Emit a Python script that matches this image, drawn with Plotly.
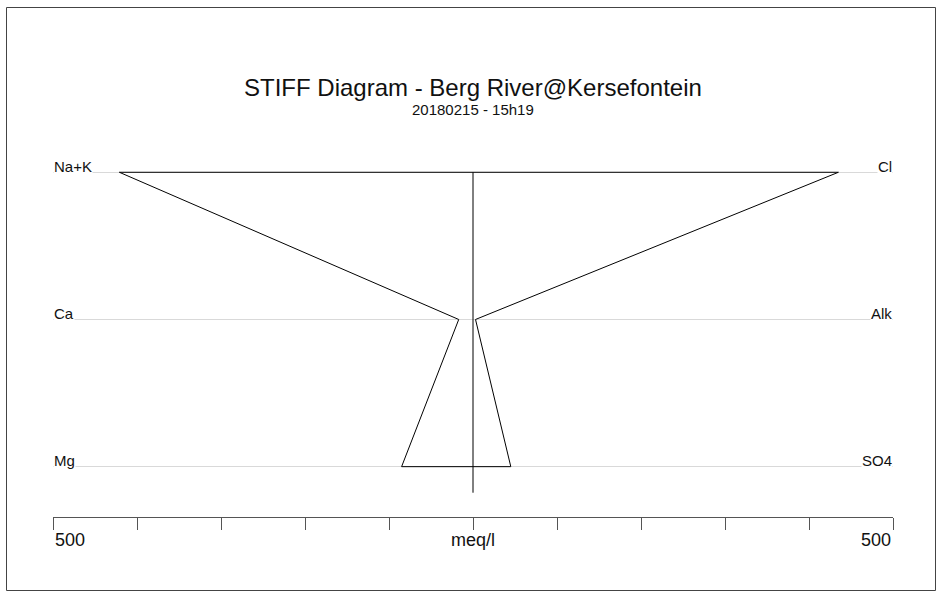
import plotly.graph_objects as go

# ---- data (meq/l) ----
cations = ["Na+K", "Ca", "Mg"]
anions = ["Cl", "Alk", "SO4"]
cation_values = [421, 17, 85]
anion_values = [435, 3, 45]
axis_max = 500
tick_step = 100
title_text = "STIFF Diagram - Berg River@Kersefontein"
subtitle_text = "20180215 - 15h19"
unit_label = "meq/l"

# ---- layout constants ----
W, H = 938, 592
ML, MR, MT, MB = 53, 45, 100, 75
plot_h = H - MT - MB
FONT = "Liberation Sans, Arial, sans-serif"
ypos = list(range(len(cations)))  # 0 top .. 2 bottom


def py(px):
    """pixel row -> paper y"""
    return (H - MB - px) / plot_h


# polygon: cations on the left (negative), anions on the right
poly_x = [-v for v in cation_values] + [v for v in anion_values[::-1]] + [-cation_values[0]]
poly_y = ypos + ypos[::-1] + [ypos[0]]

fig = go.Figure()
fig.add_trace(go.Scatter(x=poly_x, y=poly_y, mode="lines",
                         line=dict(color="black", width=1), hoverinfo="skip",
                         showlegend=False))
# centre line
fig.add_trace(go.Scatter(x=[0, 0], y=[ypos[0], ypos[-1] + 0.177], mode="lines",
                         line=dict(color="black", width=1), hoverinfo="skip",
                         showlegend=False))

ticks = list(range(-axis_max, axis_max + 1, tick_step))
fig.update_xaxes(range=[-axis_max, axis_max], showgrid=False, zeroline=False,
                 showline=True, linecolor="#555", linewidth=1,
                 ticks="outside", ticklen=12, tickcolor="#555", tickwidth=1,
                 tickvals=ticks, showticklabels=False, fixedrange=True)
fig.update_yaxes(range=[2.342, -0.491], showgrid=True, gridcolor="#d9d9d9",
                 gridwidth=1, zeroline=False, showline=False,
                 tickvals=ypos, showticklabels=False, fixedrange=True)

ann = []
for name, y in zip(cations, ypos):
    ann.append(dict(x=-axis_max, y=y, xref="x", yref="y", text=name,
                    xanchor="left", yanchor="middle", yshift=6, showarrow=False,
                    bgcolor="white", borderpad=0,
                    font=dict(family=FONT, size=15, color="#111")))
for name, y in zip(anions, ypos):
    ann.append(dict(x=axis_max, y=y, xref="x", yref="y", text=name,
                    xanchor="right", yanchor="middle", yshift=6, showarrow=False,
                    bgcolor="white", borderpad=0,
                    font=dict(family=FONT, size=15, color="#111")))
# axis labels
ann.append(dict(x=-axis_max, y=py(540), xref="x", yref="paper", text=str(axis_max),
                xanchor="left", yanchor="middle", showarrow=False,
                font=dict(family=FONT, size=18, color="#111")))
ann.append(dict(x=axis_max, y=py(540), xref="x", yref="paper", text=str(axis_max),
                xanchor="right", yanchor="middle", showarrow=False,
                font=dict(family=FONT, size=18, color="#111")))
ann.append(dict(x=0, y=py(540), xref="x", yref="paper", text=unit_label,
                xanchor="center", yanchor="middle", showarrow=False,
                font=dict(family=FONT, size=18, color="#111")))
# titles
ann.append(dict(x=0, y=py(88), xref="x", yref="paper", text=title_text,
                xanchor="center", yanchor="middle", showarrow=False,
                font=dict(family=FONT, size=24, color="#111")))
ann.append(dict(x=0, y=py(110), xref="x", yref="paper", text=subtitle_text,
                xanchor="center", yanchor="middle", showarrow=False,
                font=dict(family=FONT, size=15, color="#111")))

plot_w = W - ML - MR
shapes = [dict(type="rect", xref="paper", yref="paper",
               x0=(6.5 - ML) / plot_w, x1=(935.5 - ML) / plot_w,
               y0=py(590.5), y1=py(7.5),
               line=dict(color="#444", width=1), fillcolor="rgba(0,0,0,0)",
               layer="below")]

fig.update_layout(width=W, height=H, margin=dict(l=ML, r=MR, t=MT, b=MB),
                  paper_bgcolor="white", plot_bgcolor="white",
                  annotations=ann, shapes=shapes, showlegend=False,
                  font=dict(family=FONT))

fig.write_html("out.html", config={"displayModeBar": False},
               post_script="document.body.style.margin='0';document.body.style.overflow='hidden';")
